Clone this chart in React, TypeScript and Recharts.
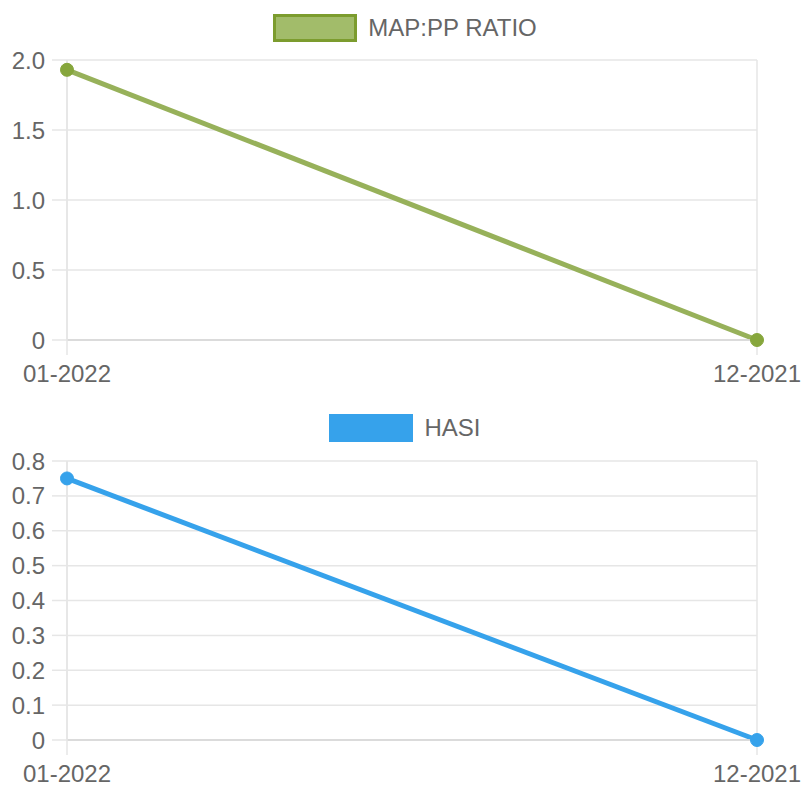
import React from 'react';
import { LineChart, Line, XAxis, YAxis, CartesianGrid } from 'recharts';

// months shown on the x axis
const months = ['01-2022', '12-2021'];
const mapPpRatio = [1.93, 0];
const hasi = [0.75, 0];
const ratioTicks = [0, 0.5, 1, 1.5, 2];
const hasiTicks = [0, 0.1, 0.2, 0.3, 0.4, 0.5, 0.6, 0.7, 0.8];

const FONT = '"Liberation Sans", Arial, Helvetica, sans-serif';
const TEXT = '#666';
const GRID = '#e6e6e6';

const fmt = (v: number) => (v === 0 ? '0' : v.toFixed(1));

interface PanelProps {
  name: string;
  values: number[];
  ticks: number[];
  max: number;
  height: number;
  marginTop: number;
  xHeight: number;
  stroke: string;
  dotFill: string;
  boxFill: string;
  boxBorder: string;
}

function Panel({
  name,
  values,
  ticks,
  max,
  height,
  marginTop,
  xHeight,
  stroke,
  dotFill,
  boxFill,
  boxBorder,
}: PanelProps) {
  const data = months.map((m, i) => ({ month: m, value: values[i] }));
  const tickStyle = { fill: TEXT, fontSize: 24, fontFamily: FONT };

  return (
    <div style={{ position: 'relative', width: 802, height }}>
      <div
        style={{
          position: 'absolute',
          top: 14,
          left: 0,
          width: 802,
          paddingLeft: 8,
          boxSizing: 'border-box',
          display: 'flex',
          justifyContent: 'center',
          alignItems: 'center',
          fontFamily: FONT,
          fontSize: 24,
          color: TEXT,
          height: 28,
        }}
      >
        <span
          style={{
            display: 'inline-block',
            width: 84,
            height: 28,
            boxSizing: 'border-box',
            background: boxFill,
            border: `3px solid ${boxBorder}`,
            marginRight: 11,
          }}
        />
        <span>{name}</span>
      </div>
      <LineChart
        width={802}
        height={height}
        data={data}
        margin={{ top: marginTop, right: 45, left: 0, bottom: 0 }}
      >
        <CartesianGrid stroke={GRID} strokeWidth={1.5} />
        <XAxis
          dataKey="month"
          height={xHeight}
          tick={tickStyle}
          tickSize={15}
          tickMargin={10}
          tickLine={{ stroke: GRID, strokeWidth: 1.5 }}
          axisLine={{ stroke: '#d6d6d6', strokeWidth: 1.5 }}
          interval={0}
        />
        <YAxis
          width={67}
          domain={[0, max]}
          ticks={ticks}
          tickFormatter={fmt}
          tick={tickStyle}
          tickSize={15}
          tickMargin={7}
          tickLine={{ stroke: GRID, strokeWidth: 1.5 }}
          axisLine={{ stroke: GRID, strokeWidth: 1.5 }}
          interval={0}
        />
        <Line
          type="linear"
          dataKey="value"
          stroke={stroke}
          strokeWidth={5}
          dot={{ r: 6.5, fill: dotFill, stroke: dotFill, strokeWidth: 1 }}
          isAnimationActive={false}
        />
      </LineChart>
    </div>
  );
}

export default function App() {
  return (
    <div style={{ position: 'absolute', left: 0, top: 0, width: 802, height: 788, background: '#fff' }}>
      <Panel
        name="MAP:PP RATIO"
        values={mapPpRatio}
        ticks={ratioTicks}
        max={2}
        height={400}
        marginTop={60}
        xHeight={60}
        stroke="#97b15a"
        dotFill="#86a63c"
        boxFill="#a2bc6a"
        boxBorder="#7c9c2e"
      />
      <Panel
        name="HASI"
        values={hasi}
        ticks={hasiTicks}
        max={0.8}
        height={388}
        marginTop={61}
        xHeight={48}
        stroke="#36a2eb"
        dotFill="#36a2eb"
        boxFill="#36a2eb"
        boxBorder="#36a2eb"
      />
    </div>
  );
}
